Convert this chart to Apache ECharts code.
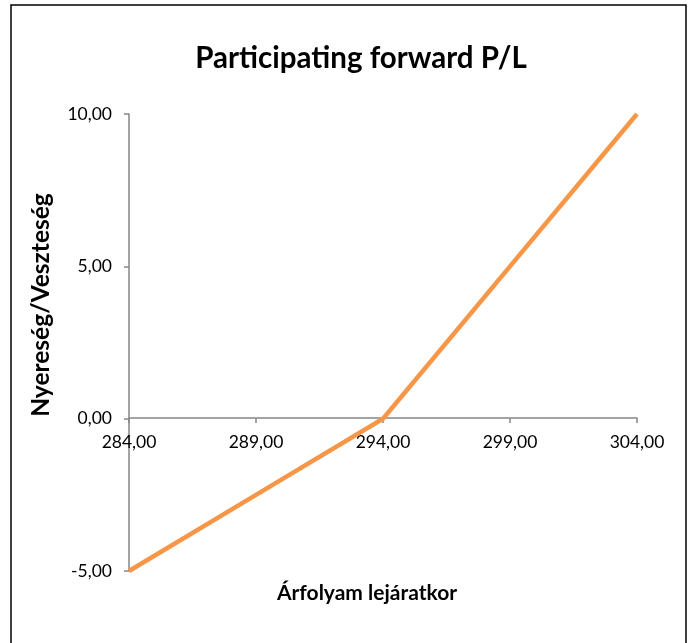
<!DOCTYPE html>
<html>
<head>
<meta charset="utf-8">
<script src="https://cdn.jsdelivr.net/npm/echarts@6/dist/echarts.min.js"></script>
<style>
html,body{margin:0;padding:0;background:#fff;}
#c{width:690px;height:643px;}
</style>
</head>
<body>
<div id="c"></div>
<script>
const titleText = 'Participating forward P/L';
const xName = 'Árfolyam lejáratkor';
const yName = 'Nyereség/Veszteség';
const prices = [284, 289, 294, 299, 304];
const pnl = [-5, -2.5, 0, 5, 10];
const xTicks = [284, 289, 294, 299, 304];
const yTicks = [-5, 0, 5, 10];

const FONT = 'Lato, "Open Sans", sans-serif';
const fmt = v => v.toFixed(2).replace('.', ',');

const chart = echarts.init(document.getElementById('c'), null, {renderer: 'canvas'});
chart.setOption({
  backgroundColor: '#fff',
  animation: false,
  title: {
    text: titleText,
    left: 356, top: 38, textAlign: 'center',
    textStyle: {fontFamily: FONT, fontSize: 29.5, fontWeight: 'bold', color: '#000'}
  },
  graphic: [
    {type: 'rect', shape: {x: 11, y: 5, width: 675, height: 660},
     style: {fill: 'none', stroke: '#000', lineWidth: 1.5}, silent: true},
    {type: 'text', x: 41, y: 305, rotation: Math.PI / 2,
     style: {text: yName, font: 'bold 24.5px ' + FONT, fill: '#000', align: 'center', verticalAlign: 'middle'}},
    {type: 'text', x: 367, y: 593,
     style: {text: xName, font: 'bold 21px ' + FONT, fill: '#000', align: 'center', verticalAlign: 'middle'}}
  ],
  grid: {left: 129, right: 53, top: 114, bottom: 72, containLabel: false},
  xAxis: {
    type: 'value', min: xTicks[0], max: xTicks[xTicks.length - 1], interval: 5,
    offset: -153,
    axisLine: {onZero: false, lineStyle: {color: '#868686', width: 1.5}},
    axisTick: {show: true, length: 5, lineStyle: {color: '#868686', width: 1.5}},
    axisLabel: {formatter: fmt, fontFamily: FONT, fontSize: 17.5, color: '#000', margin: 15},
    splitLine: {show: false}
  },
  yAxis: {
    type: 'value', min: yTicks[0], max: yTicks[yTicks.length - 1], interval: 5,
    axisLine: {show: true, lineStyle: {color: '#868686', width: 1.5}},
    axisTick: {show: true, length: 5, lineStyle: {color: '#868686', width: 1.5}},
    axisLabel: {formatter: fmt, fontFamily: FONT, fontSize: 17.5, color: '#000', margin: 17},
    splitLine: {show: false}
  },
  series: [{
    type: 'line',
    data: prices.map((p, i) => [p, pnl[i]]),
    showSymbol: false,
    symbol: 'none',
    lineStyle: {color: '#F79646', width: 4.5, cap: 'butt', join: 'miter'},
    itemStyle: {color: '#F79646'}
  }]
});
</script>
</body>
</html>
